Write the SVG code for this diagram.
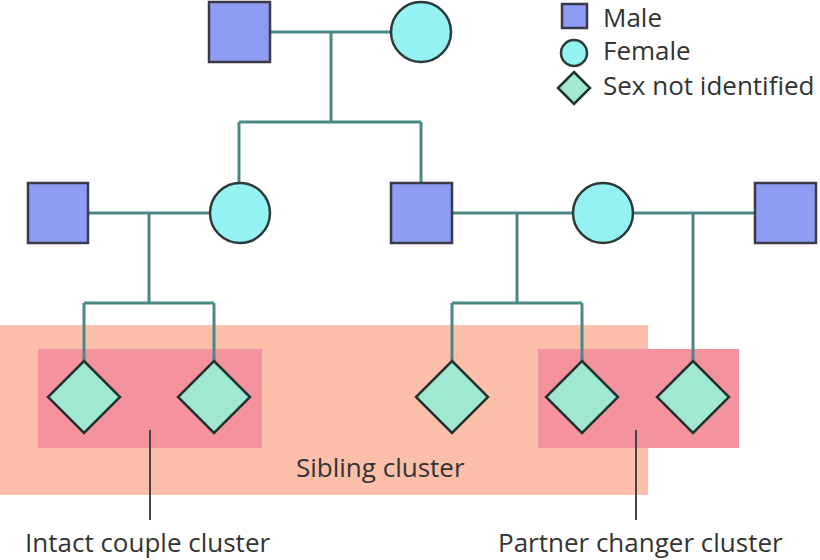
<svg xmlns="http://www.w3.org/2000/svg" width="820" height="560" viewBox="0 0 820 560">
<style>
.m{fill:#8f9cf4;stroke:#3a3a48;stroke-width:2.5}
.f{fill:#94f2f2;stroke:#2e3a3a;stroke-width:2.5}
.d{fill:#a0e8cf;stroke:#223330;stroke-width:2.5}
.c{fill:none;stroke:#4b8785;stroke-width:3}
.lead{stroke:#444;stroke-width:2}
text{font-family:"Open Sans","Liberation Sans",sans-serif;fill:#333;font-size:26px}
</style>
<g id="clusters">
<rect x="0" y="325" width="648" height="170" fill="#fdbfaa"/>
<rect x="38" y="349" width="224" height="99" fill="#f4929d"/>
<rect x="538" y="349" width="201" height="99" fill="#f4929d"/>
</g>
<g id="connectors">
<path class="c" d="M271 32H392M331 32V122M239 122H421M239 122V183M421 122V183"/>
<path class="c" d="M88 213H210M149 213V303M84 303H214M84 303V361M214 303V361"/>
<path class="c" d="M452 213H573M517 213V303M452 303H582M452 303V361M582 303V361"/>
<path class="c" d="M633 213H755M693 213V361"/>
</g>
<g id="leaders">
<line class="lead" x1="150" y1="430" x2="150" y2="520"/>
<line class="lead" x1="636" y1="430" x2="636" y2="520"/>
</g>
<g id="gf"><rect class="m" x="209" y="2" width="61" height="60"/></g>
<g id="gm"><circle class="f" cx="421" cy="32" r="30"/></g>
<g id="m1"><rect class="m" x="28" y="183" width="60" height="60"/></g>
<g id="f1"><circle class="f" cx="240" cy="213" r="30"/></g>
<g id="m2"><rect class="m" x="391" y="183" width="61" height="60"/></g>
<g id="f2"><circle class="f" cx="603" cy="213" r="30"/></g>
<g id="m3"><rect class="m" x="755" y="183" width="61" height="60"/></g>
<g id="c1"><path class="d" d="M84 361L120 397L84 433L48 397Z"/></g>
<g id="c2"><path class="d" d="M214 361L250 397L214 433L178 397Z"/></g>
<g id="c3"><path class="d" d="M452 361L488 397L452 433L416 397Z"/></g>
<g id="c4"><path class="d" d="M582 361L618 397L582 433L546 397Z"/></g>
<g id="c5"><path class="d" d="M693 361L729 397L693 433L657 397Z"/></g>
<g id="legend">
<rect class="m" x="562" y="4" width="25" height="24"/>
<circle class="f" cx="574" cy="53" r="13"/>
<path class="d" d="M574 72L590 88L574 104L558 88Z"/>
<text x="603" y="27">Male</text>
<text x="603" y="60">Female</text>
<text x="603" y="95">Sex not identified</text>
</g>
<g id="labels">
<text x="296" y="477">Sibling cluster</text>
<text x="25" y="552">Intact couple cluster</text>
<text x="498" y="552">Partner changer cluster</text>
</g>
</svg>
